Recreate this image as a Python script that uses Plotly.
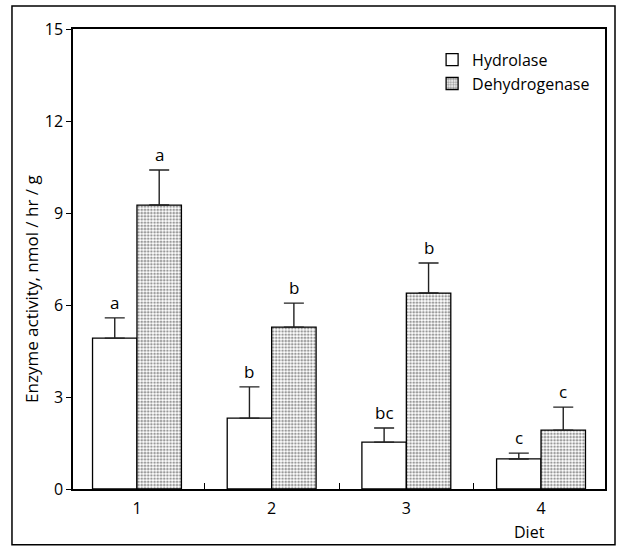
import plotly.graph_objects as go

diets = ["1", "2", "3", "4"]
hydrolase = [4.92, 2.31, 1.53, 0.98]
hydrolase_err = [0.66, 1.02, 0.46, 0.19]
dehydrogenase = [9.26, 5.28, 6.39, 1.92]
dehydrogenase_err = [1.14, 0.78, 0.98, 0.75]
hyd_letters = ["a", "b", "bc", "c"]
deh_letters = ["a", "b", "b", "c"]
yticks = [0, 3, 6, 9, 12, 15]

FONT = "Open Sans"
xpos = list(range(len(diets)))
bw = 0.33

fig = go.Figure()
fig.add_trace(go.Bar(
    x=xpos, y=hydrolase, name="Hydrolase", width=bw, offset=-bw,
    marker=dict(color="white", line=dict(color="black", width=1.3)),
    error_y=dict(type="data", array=hydrolase_err, arrayminus=[0] * 4,
                 symmetric=False, color="#222", thickness=1.4, width=10),
))
fig.add_trace(go.Bar(
    x=xpos, y=dehydrogenase, name="Dehydrogenase", width=bw, offset=0,
    marker=dict(color="white", line=dict(color="black", width=1.3),
                pattern=dict(shape=".", fgcolor="#333", bgcolor="white",
                             size=3.2, solidity=0.5, fillmode="overlay")),
    error_y=dict(type="data", array=dehydrogenase_err, arrayminus=[0] * 4,
                 symmetric=False, color="#222", thickness=1.4, width=10),
))

for i in xpos:
    fig.add_annotation(x=i - bw / 2, y=hydrolase[i] + hydrolase_err[i],
                       text=hyd_letters[i], showarrow=False, yanchor="bottom",
                       yshift=2, font=dict(family=FONT, size=17, color="black"))
    fig.add_annotation(x=i + bw / 2, y=dehydrogenase[i] + dehydrogenase_err[i],
                       text=deh_letters[i], showarrow=False, yanchor="bottom",
                       yshift=2, font=dict(family=FONT, size=17, color="black"))

fig.add_annotation(x=3, xshift=-12, yref="paper", y=-0.094, yanchor="middle",
                   text="Diet", showarrow=False,
                   font=dict(family=FONT, size=16, color="black"))
fig.add_annotation(xref="paper", yref="paper", x=-0.077, y=0.435,
                   xanchor="center", yanchor="middle",
                   text="Enzyme activity, nmol / hr / g", textangle=-90,
                   showarrow=False, font=dict(family=FONT, size=17, color="black"))

# outer frame
fig.add_shape(type="rect", xref="paper", yref="paper",
              x0=-0.1147, x1=1.0188, y0=-0.121, y1=1.05,
              line=dict(color="black", width=1.5))

fig.update_layout(
    width=618, height=546,
    margin=dict(l=73, r=13, t=29, b=57),
    paper_bgcolor="white", plot_bgcolor="white",
    barmode="overlay",
    font=dict(family=FONT, size=16, color="black"),
    showlegend=True,
    legend=dict(x=0.675, y=0.97, xanchor="left", yanchor="top",
                bgcolor="rgba(0,0,0,0)", font=dict(family=FONT, size=16),
                tracegroupgap=4),
    xaxis=dict(range=[-0.475, 3.475], tickvals=xpos, ticktext=diets,
               ticks="", showgrid=False, zeroline=False,
               showline=True, mirror=True, linecolor="black", linewidth=1.5,
               ticklabelstandoff=4, tickfont=dict(size=16),
               minor=dict(tickvals=[0.5, 1.5, 2.5], ticks="inside",
                          ticklen=6, tickcolor="black", tickwidth=1.2)),
    yaxis=dict(range=[0, 15], tickvals=yticks, ticks="outside", ticklen=5,
               tickcolor="black", tickwidth=1.2, showgrid=False, zeroline=False,
               tickfont=dict(size=16),
               showline=True, mirror=True, linecolor="black", linewidth=1.5),
)

fig.write_html("out.html")
